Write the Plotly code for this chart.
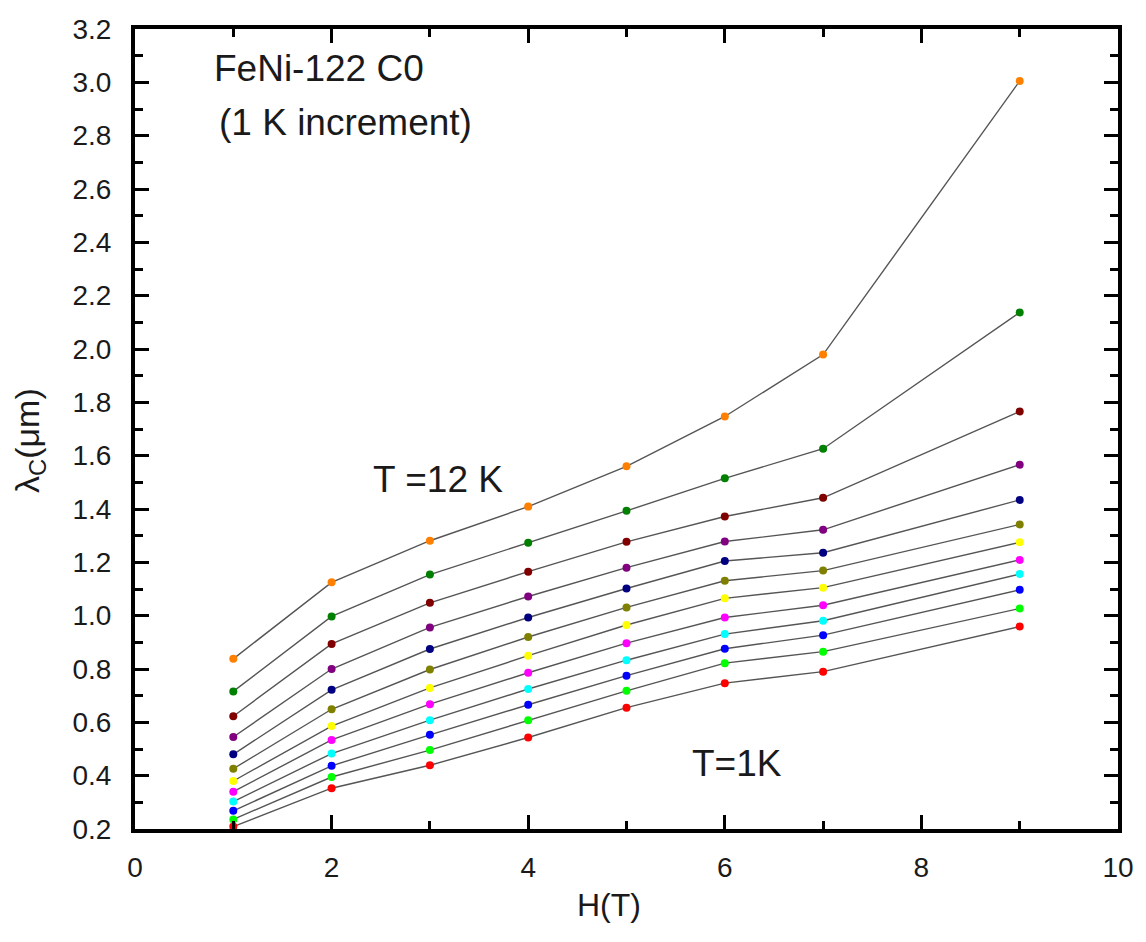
import plotly.graph_objects as go

H = [1, 2, 3, 4, 5, 6, 7, 9]

# lambda_c (um) for T = 1 K ... 12 K
T1 = [0.209, 0.353, 0.439, 0.543, 0.655, 0.747, 0.790, 0.959]
T2 = [0.236, 0.395, 0.496, 0.608, 0.718, 0.822, 0.865, 1.027]
T3 = [0.268, 0.437, 0.553, 0.666, 0.775, 0.876, 0.927, 1.097]
T4 = [0.303, 0.483, 0.608, 0.725, 0.833, 0.931, 0.981, 1.156]
T5 = [0.340, 0.534, 0.668, 0.786, 0.897, 0.993, 1.039, 1.209]
T6 = [0.380, 0.586, 0.729, 0.850, 0.965, 1.065, 1.105, 1.275]
T7 = [0.426, 0.649, 0.798, 0.920, 1.031, 1.131, 1.169, 1.342]
T8 = [0.480, 0.722, 0.875, 0.993, 1.102, 1.205, 1.236, 1.434]
T9 = [0.545, 0.800, 0.956, 1.072, 1.180, 1.278, 1.322, 1.566]
T10 = [0.623, 0.894, 1.048, 1.165, 1.277, 1.372, 1.442, 1.766]
T11 = [0.716, 0.997, 1.154, 1.273, 1.393, 1.515, 1.626, 2.137]
T12 = [0.838, 1.125, 1.281, 1.409, 1.560, 1.747, 1.979, 3.005]

series = [T1, T2, T3, T4, T5, T6, T7, T8, T9, T10, T11, T12]
names = [f"{t} K" for t in range(1, 13)]
colors = ["#FF0000", "#00FF00", "#0000FF", "#00FFFF", "#FF00FF", "#FFFF00",
          "#808000", "#000080", "#800080", "#800000", "#008000", "#FF8000"]

fig = go.Figure()
for name, vals, c in zip(names, series, colors):
    fig.add_trace(go.Scatter(
        x=H, y=vals, name=name, mode="lines+markers",
        line=dict(color="#555555", width=1.4),
        marker=dict(color=c, size=8, line=dict(width=0)),
    ))

tickfont = dict(family="Liberation Sans, Arial", size=28, color="#1a1a1a")
fig.update_layout(
    width=1146, height=942,
    margin=dict(l=135, r=19, t=29, b=113),
    paper_bgcolor="white", plot_bgcolor="white",
    showlegend=False,
    xaxis=dict(
        range=[0, 10], tickmode="array", tickvals=[0, 2, 4, 6, 8, 10],
        ticks="inside", ticklen=14, tickwidth=3, tickcolor="black",
        minor=dict(tickvals=[1, 3, 5, 7, 9], ticks="inside", ticklen=8,
                   tickwidth=2.5, tickcolor="black"),
        showline=True, linewidth=4, linecolor="black", mirror="ticks",
        showgrid=False, zeroline=False, tickfont=tickfont,
        ticklabelstandoff=10,
    ),
    yaxis=dict(
        range=[0.2, 3.2], tickmode="linear", tick0=0.2, dtick=0.2,
        tickformat=".1f",
        ticks="inside", ticklen=14, tickwidth=3, tickcolor="black",
        minor=dict(dtick=0.1, tick0=0.1, ticks="inside", ticklen=8,
                   tickwidth=2.5, tickcolor="black"),
        showline=True, linewidth=4, linecolor="black", mirror="ticks",
        showgrid=False, zeroline=False, tickfont=tickfont,
        ticklabelstandoff=14,
    ),
)

afont = dict(family="Liberation Sans, Arial", size=37, color="#1a1a1a")
fig.add_annotation(x=0.78, y=3.053, text="FeNi-122 C0", showarrow=False,
                   xanchor="left", yanchor="middle", font=afont)
fig.add_annotation(x=0.83, y=2.851, text="(1 K increment)", showarrow=False,
                   xanchor="left", yanchor="middle", font=afont)
fig.add_annotation(x=2.40, y=1.512, text="T =12 K", showarrow=False,
                   xanchor="left", yanchor="middle", font=afont)
fig.add_annotation(x=5.65, y=0.447, text="T=1K", showarrow=False,
                   xanchor="left", yanchor="middle", font=afont)

# axis titles
fig.add_annotation(xref="paper", yref="paper", x=0.482, y=0, yshift=-76,
                   text="H(T)", showarrow=False, xanchor="center", yanchor="middle",
                   font=dict(family="Liberation Sans, Arial", size=32, color="#1a1a1a"))
fig.add_annotation(xref="paper", yref="paper", x=0, y=0.485, xshift=-106,
                   text="λ<sub>C</sub>(μm)", textangle=-90, showarrow=False,
                   xanchor="center", yanchor="middle",
                   font=dict(family="Liberation Sans, Arial", size=34, color="#1a1a1a"))

fig.write_html("out.html")
